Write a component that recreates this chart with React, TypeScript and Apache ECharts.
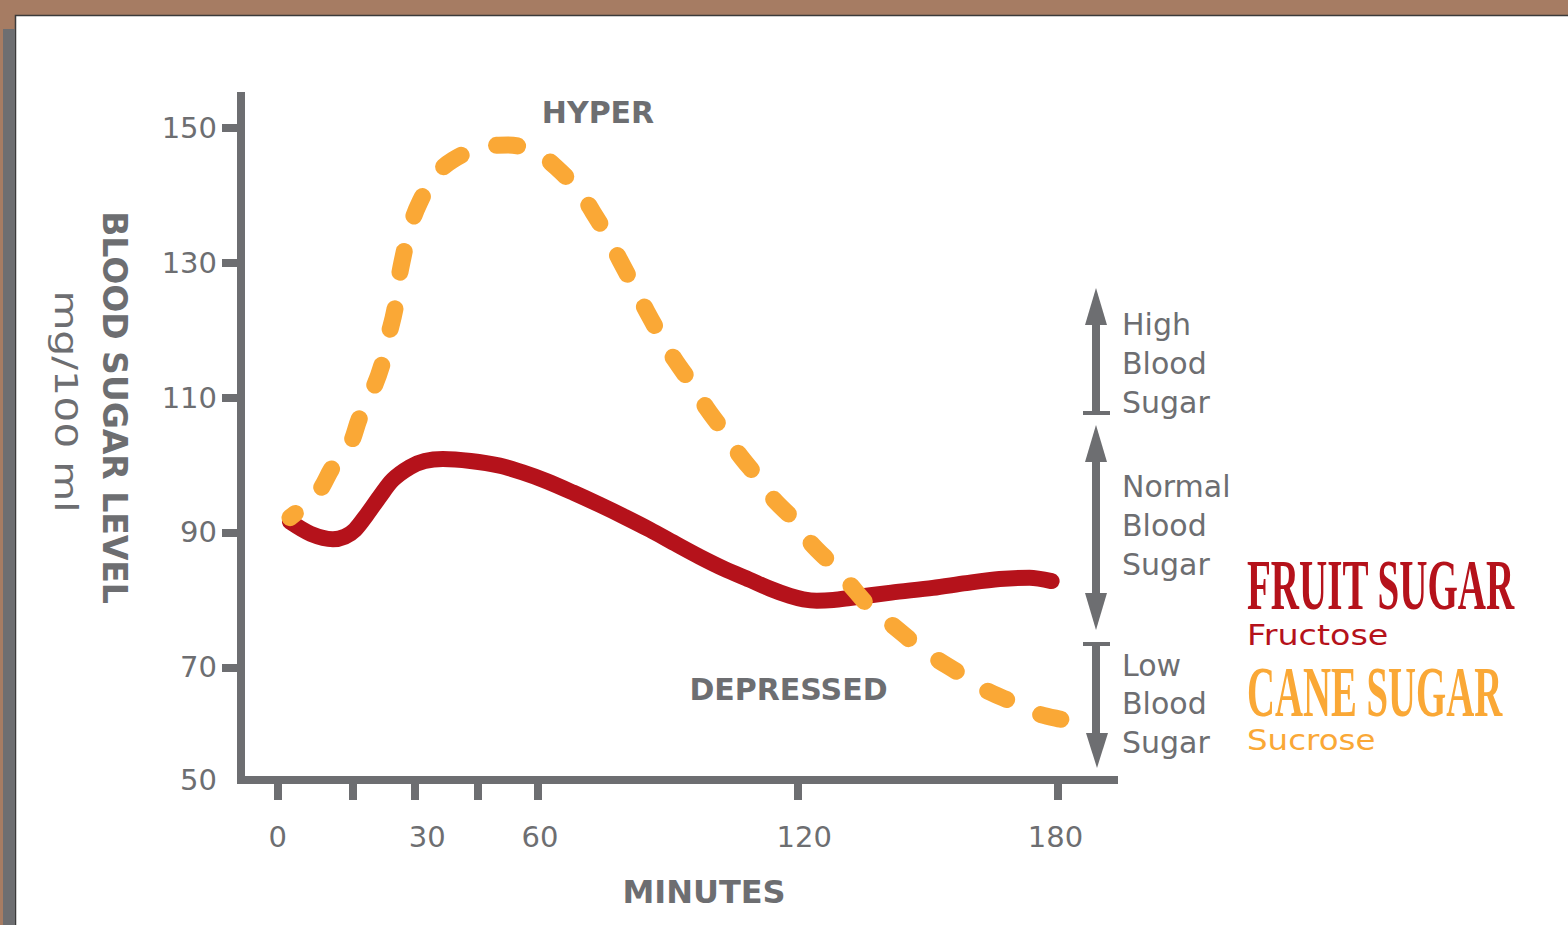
import React, { useEffect, useRef } from "react";
import * as echarts from "echarts";

const GRAY = "#6d6e71";
const RED = "#b5121b";
const ORANGE = "#faa836";
const BROWN = "#a67c63";
const SANS = '"DejaVu Sans"';

// axis ranges (minutes, mg/100 ml)
const xMin = -8.5;
const xMax = 193;
const yMin = 53.33;
const yMax = 154.67;

const xTickValues = [0, 17.3, 31.6, 46.2, 60, 120, 180];
const xLabelValues = [0, 34.5, 60.5, 121.5, 179.5];
const xLabelTexts = ["0", "30", "60", "120", "180"];
const yTickValues = [70, 90, 110, 130, 150];
const yLabelValues = [yMin, 70, 90, 110, 130, 150];
const yLabelTexts = ["50", "70", "90", "110", "130", "150"];

// Fruit sugar (fructose) curve
const fruitMinutes = [2.8, 7.6, 12.7, 15.5, 17.8, 20.5, 23.5, 26.5, 30.5, 33.9, 38.1, 44.5, 51.2, 56.5, 62.1, 68.2, 74.3, 80.1, 85.9, 91.6, 97.4, 103.1, 108.9, 113.5, 118.2, 121.3, 124.4, 128.2, 132, 141.6, 151.2, 158.9, 166.6, 173.5, 178.6];
const fruitLevels = [91.6, 89.8, 89.0, 89.4, 90.4, 92.6, 95.3, 97.8, 99.7, 100.6, 100.9, 100.6, 99.9, 98.9, 97.6, 95.9, 94.1, 92.3, 90.4, 88.4, 86.4, 84.6, 83.0, 81.7, 80.6, 80.1, 79.9, 80.0, 80.3, 81.1, 81.8, 82.5, 83.1, 83.3, 82.8];

// Cane sugar (sucrose) curve
const caneMinutes = [2.8, 9.2, 12.7, 16.6, 18.9, 21.7, 24.0, 25.4, 27.0, 27.7, 28.9, 30.5, 32.8, 36.2, 40.4, 47.1, 53.1, 59.8, 64.4, 69.7, 72.7, 76.6, 78.9, 82.9, 85.2, 88.9, 91.6, 96.2, 99.0, 103.6, 106.2, 111.2, 114.2, 119.8, 122.8, 128.5, 131.5, 137.3, 141.2, 147.5, 151.2, 157.9, 162.0, 169.4, 174.2, 181.6, 185.1];
const caneLevels = [92.2, 95.9, 99.7, 103.0, 107.0, 110.8, 114.8, 118.8, 123.0, 126.7, 130.8, 135.1, 139.0, 142.7, 145.2, 147.0, 147.4, 146.2, 144.0, 140.4, 137.5, 133.3, 130.4, 125.6, 122.7, 118.5, 115.6, 111.4, 108.4, 104.4, 101.8, 97.8, 95.1, 91.4, 88.6, 84.9, 82.7, 78.5, 76.6, 73.3, 71.6, 68.9, 67.1, 64.9, 63.4, 62.2, 61.8];

const zoneLabels = [
  ["High", "Blood", "Sugar"],
  ["Normal", "Blood", "Sugar"],
  ["Low", "Blood", "Sugar"],
];
const zoneLabelY = [
  [324, 363, 402],
  [486, 525, 564],
  [665, 703, 742],
];

const pairs = (xs: number[], ys: number[]) => xs.map((x, i) => [x, ys[i]]);

export default function App() {
  const ref = useRef<HTMLDivElement>(null);
  useEffect(() => {
    if (!ref.current) return;
    const chart = echarts.init(ref.current, null, { renderer: "svg" });

    const graphics: any[] = [
      { type: "rect", z: -10, silent: true, shape: { x: 0, y: 0, width: 1568, height: 925 }, style: { fill: BROWN } },
      { type: "rect", z: -9, silent: true, shape: { x: 15.5, y: 15.5, width: 1560, height: 920 }, style: { fill: "#ffffff", stroke: "#3a3a3a", lineWidth: 1.5 } },
      { type: "rect", z: -8, silent: true, shape: { x: 3, y: 29, width: 12, height: 900 }, style: { fill: GRAY } },
      // arrows
      { type: "polygon", shape: { points: [[1096, 288], [1107, 325], [1085, 325]] }, style: { fill: GRAY } },
      { type: "rect", shape: { x: 1092, y: 322, width: 8, height: 91 }, style: { fill: GRAY } },
      { type: "rect", shape: { x: 1083, y: 411, width: 27, height: 4 }, style: { fill: GRAY } },
      { type: "polygon", shape: { points: [[1096, 425], [1107, 462], [1085, 462]] }, style: { fill: GRAY } },
      { type: "rect", shape: { x: 1092, y: 460, width: 8, height: 135 }, style: { fill: GRAY } },
      { type: "polygon", shape: { points: [[1085, 593], [1107, 593], [1096, 630]] }, style: { fill: GRAY } },
      { type: "rect", shape: { x: 1083, y: 642, width: 27, height: 4 }, style: { fill: GRAY } },
      { type: "rect", shape: { x: 1092, y: 644, width: 8, height: 91 }, style: { fill: GRAY } },
      { type: "polygon", shape: { points: [[1086, 733], [1108, 733], [1097, 768]] }, style: { fill: GRAY } },
      // titles
      { type: "text", x: 598, y: 112.5, style: { text: "HYPER", fill: GRAY, font: `bold 30px ${SANS}`, align: "center", verticalAlign: "middle" } },
      { type: "text", x: 788.5, y: 689, style: { text: "DEPRESSED", fill: GRAY, font: `bold 30px ${SANS}`, align: "center", verticalAlign: "middle" } },
      { type: "text", x: 704, y: 892, style: { text: "MINUTES", fill: GRAY, font: `bold 32px ${SANS}`, align: "center", verticalAlign: "middle" } },
      { type: "text", x: 114.5, y: 407.5, rotation: -Math.PI / 2, style: { text: "BLOOD SUGAR LEVEL", fill: GRAY, font: `bold 33px ${SANS}`, align: "center", verticalAlign: "middle" } },
      { type: "text", x: 66, y: 401.5, rotation: -Math.PI / 2, scaleX: 1.28, style: { text: "mg/100 ml", fill: GRAY, font: `32px ${SANS}`, align: "center", verticalAlign: "middle" } },
      // legend
      { type: "text", x: 1247, y: 584.5, scaleX: 0.55, style: { text: "FRUIT SUGAR", fill: RED, font: 'bold 71px "Liberation Serif"', align: "left", verticalAlign: "middle" } },
      { type: "text", x: 1247, y: 635, scaleX: 1.15, style: { text: "Fructose", fill: RED, font: `29px ${SANS}`, align: "left", verticalAlign: "middle" } },
      { type: "text", x: 1247, y: 691.5, scaleX: 0.546, style: { text: "CANE SUGAR", fill: ORANGE, font: 'bold 71px "Liberation Serif"', align: "left", verticalAlign: "middle" } },
      { type: "text", x: 1247, y: 740, scaleX: 1.12, style: { text: "Sucrose", fill: ORANGE, font: `29px ${SANS}`, align: "left", verticalAlign: "middle" } },
    ];
    zoneLabels.forEach((lines, i) =>
      lines.forEach((t, j) =>
        graphics.push({ type: "text", x: 1122, y: zoneLabelY[i][j], style: { text: t, fill: GRAY, font: `30px ${SANS}`, align: "left", verticalAlign: "middle" } })
      )
    );

    chart.setOption({
      animation: false,
      grid: { left: 241, top: 96, right: 1568 - 1114, bottom: 925 - 780 },
      xAxis: {
        type: "value",
        min: xMin,
        max: xMax,
        splitLine: { show: false },
        axisLine: { onZero: false, lineStyle: { color: GRAY, width: 8, cap: "square" } },
        axisTick: { show: true, customValues: xTickValues, length: 20, lineStyle: { color: GRAY, width: 8 } },
        axisLabel: {
          customValues: xLabelValues,
          margin: 42,
          color: GRAY,
          fontSize: 29,
          fontFamily: "DejaVu Sans",
          formatter: (v: number) => {
            const i = xLabelValues.findIndex((x) => Math.abs(x - v) < 0.01);
            return i >= 0 ? xLabelTexts[i] : "";
          },
        },
      },
      yAxis: {
        type: "value",
        min: yMin,
        max: yMax,
        splitLine: { show: false },
        axisLine: { onZero: false, lineStyle: { color: GRAY, width: 8, cap: "square" } },
        axisTick: { show: true, customValues: yTickValues, length: 19, lineStyle: { color: GRAY, width: 8 } },
        axisLabel: {
          customValues: yLabelValues,
          margin: 24,
          color: GRAY,
          fontSize: 29,
          fontFamily: "DejaVu Sans",
          formatter: (v: number) => {
            const i = yLabelValues.findIndex((y) => Math.abs(y - v) < 0.01);
            return i >= 0 ? yLabelTexts[i] : "";
          },
        },
      },
      graphic: graphics,
      series: [
        {
          name: "Fruit Sugar",
          type: "line",
          data: pairs(fruitMinutes, fruitLevels),
          smooth: 0.3,
          showSymbol: false,
          z: 2,
          lineStyle: { color: RED, width: 16, cap: "round", join: "round" },
        },
        {
          name: "Cane Sugar",
          type: "line",
          data: pairs(caneMinutes, caneLevels),
          smooth: 0.4,
          showSymbol: false,
          z: 3,
          lineStyle: { color: ORANGE, width: 17, type: [21, 37], dashOffset: 14, cap: "round", join: "round" },
        },
      ],
    });
    return () => chart.dispose();
  }, []);
  return <div ref={ref} style={{ position: "absolute", left: 0, top: 0, width: 1568, height: 925 }} />;
}
